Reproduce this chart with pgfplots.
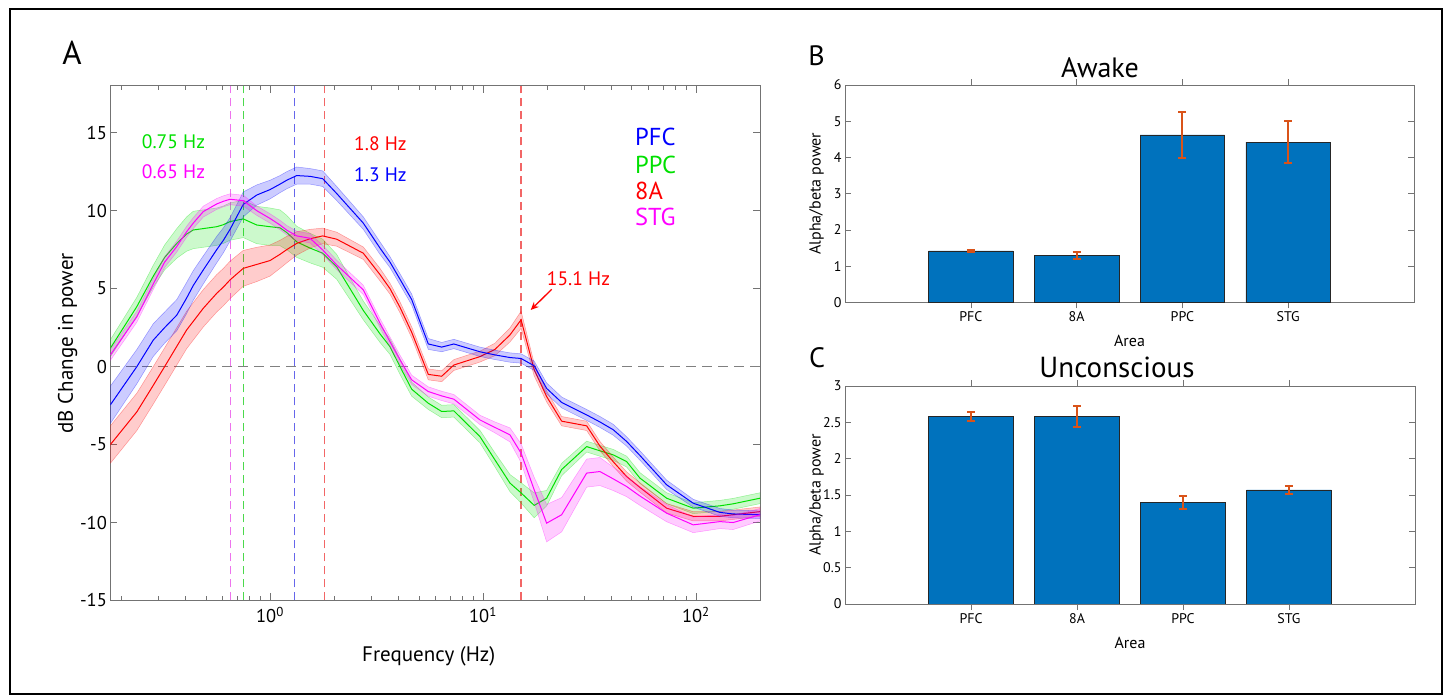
\documentclass[border=0pt]{standalone}
\usepackage{fontspec}
\setmainfont{PT Sans}
\usepackage{pgfplots}
\pgfplotsset{compat=1.18}
\usepackage{pgfplotstable}
\usetikzlibrary{arrows.meta}

\definecolor{cpfc}{rgb}{0,0,1}
\definecolor{cppc}{rgb}{0,0.88,0}
\definecolor{ceightA}{rgb}{1,0,0}
\definecolor{cstg}{rgb}{1,0,1}
\definecolor{vpfc}{rgb}{0.4,0.4,0.92}
\definecolor{vppc}{rgb}{0.3,0.85,0.3}
\definecolor{veightA}{rgb}{0.95,0.4,0.4}
\definecolor{vstg}{rgb}{0.93,0.45,0.93}
\definecolor{matblue}{rgb}{0,0.447,0.741}
\definecolor{matorange}{rgb}{0.85,0.325,0.098}
\definecolor{axgray}{gray}{0.45}

\pgfplotstableread{
f m e
0.178 -2.45 1.2
0.237 0.0 1.1
0.283 1.7 1.05
0.32 2.5 1.0
0.365 3.3 1.0
0.406 4.4 1.0
0.436 5.2 0.95
0.486 6.2 0.9
0.562 7.5 0.85
0.604 8.1 0.8
0.649 8.8 0.75
0.749 10.4 0.8
0.866 11.0 0.65
1.0 11.35 0.6
1.114 11.7 0.55
1.198 11.95 0.55
1.335 12.25 0.55
1.541 12.2 0.5
1.768 12.05 0.5
2.056 11.1 0.45
2.742 9.2 0.4
3.284 7.6 0.4
3.659 6.7 0.35
4.077 5.6 0.35
4.627 4.3 0.35
5.537 1.45 0.35
6.4 1.25 0.3
7.3 1.45 0.3
9.68 0.95 0.3
11.38 0.75 0.3
13.39 0.58 0.3
15.1 0.52 0.3
17.4 0.05 0.3
19.91 -1.4 0.35
23.42 -2.3 0.35
30.69 -3.1 0.35
35.42 -3.55 0.35
40.9 -4.05 0.35
47.27 -4.8 0.3
54.59 -5.7 0.3
72.86 -7.58 0.3
97.1 -8.76 0.25
129.6 -9.35 0.25
149.6 -9.45 0.25
200 -9.5 0.25
}\pfc

\pgfplotstableread{
f m e
0.178 -5.0 1.2
0.237 -2.9 1.2
0.283 -1.2 1.2
0.32 0.0 1.2
0.365 1.3 1.2
0.406 2.35 1.2
0.436 2.9 1.2
0.486 3.74 1.2
0.562 4.7 1.2
0.604 5.1 1.2
0.649 5.56 1.2
0.749 6.3 1.15
0.866 6.55 1.1
1.0 6.8 1.0
1.114 7.2 0.9
1.198 7.5 0.85
1.335 7.9 0.75
1.541 8.2 0.6
1.768 8.38 0.5
2.056 8.17 0.45
2.742 7.27 0.4
3.284 5.9 0.4
3.659 5.0 0.35
4.077 3.8 0.35
4.627 2.2 0.35
5.537 -0.5 0.35
6.4 -0.62 0.35
7.3 0.1 0.35
9.68 0.64 0.35
11.38 1.1 0.4
13.39 2.03 0.45
15.1 3.0 0.55
17.4 -0.2 0.4
19.91 -1.92 0.35
23.42 -3.5 0.3
30.69 -3.8 0.3
35.42 -5.1 0.3
40.9 -6.1 0.3
47.27 -7.05 0.3
54.59 -7.75 0.3
72.86 -9.08 0.3
97.1 -9.6 0.3
129.6 -9.6 0.3
149.6 -9.5 0.3
200 -9.3 0.3
}\eightA

\pgfplotstableread{
f m e
0.178 1.18 0.55
0.237 3.85 0.6
0.283 5.8 0.7
0.32 7.0 0.8
0.365 7.9 0.95
0.406 8.5 1.1
0.436 8.76 1.2
0.486 8.85 1.2
0.562 8.97 1.2
0.604 9.1 1.2
0.649 9.3 1.2
0.749 9.47 1.2
0.866 9.08 1.2
1.0 8.97 1.2
1.114 8.9 1.15
1.198 8.6 1.1
1.335 8.0 1.0
1.541 7.6 0.95
1.768 7.27 0.9
2.056 6.4 0.8
2.742 3.6 0.6
3.284 2.1 0.55
3.659 1.28 0.5
4.077 0.0 0.5
4.627 -1.45 0.45
5.537 -2.35 0.4
6.4 -2.88 0.4
7.3 -2.84 0.4
9.68 -4.49 0.4
11.38 -5.98 0.45
13.39 -7.47 0.55
15.1 -8.1 0.65
17.4 -8.9 0.8
19.91 -8.44 0.5
23.42 -6.6 0.4
30.69 -5.13 0.35
35.42 -5.4 0.35
40.9 -5.66 0.35
47.27 -6.09 0.35
54.59 -7.15 0.35
72.86 -8.44 0.35
97.1 -9.08 0.35
129.6 -8.93 0.35
149.6 -8.8 0.35
200 -8.44 0.35
}\ppc

\pgfplotstableread{
f m e
0.178 0.75 0.35
0.237 3.2 0.35
0.283 5.3 0.35
0.32 6.7 0.35
0.365 7.7 0.35
0.406 8.65 0.35
0.436 9.2 0.35
0.486 9.94 0.35
0.562 10.43 0.35
0.604 10.6 0.35
0.649 10.73 0.35
0.749 10.64 0.35
0.866 10.0 0.3
1.0 9.5 0.3
1.114 9.08 0.3
1.198 8.75 0.3
1.335 8.38 0.3
1.541 8.23 0.3
1.768 7.48 0.3
2.056 6.52 0.3
2.742 4.92 0.3
3.284 2.78 0.3
3.659 1.6 0.3
4.077 0.43 0.3
4.627 -0.85 0.3
5.537 -1.6 0.3
6.4 -1.88 0.3
7.3 -2.09 0.3
9.68 -3.42 0.3
11.38 -3.9 0.35
13.39 -4.38 0.45
15.1 -5.55 0.6
17.4 -7.9 0.8
19.91 -10.04 1.2
23.42 -9.5 1.1
30.69 -6.83 0.9
35.42 -6.73 0.9
40.9 -7.2 0.75
47.27 -7.69 0.65
54.59 -8.3 0.6
72.86 -9.4 0.55
97.1 -10.15 0.5
129.6 -9.94 0.45
149.6 -10.0 0.45
200 -9.5 0.4
}\stg

% polygon tables for the shaded bands: upper edge forward, lower edge backward
\newcommand{\makeband}[2]{%
  \pgfplotstablesort[sort key=f, sort cmp=float <]{#2}{#1}%
  \pgfplotstablecreatecol[create col/expr={\thisrow{m}+\thisrow{e}}]{yy}{#2}%
  \pgfplotstablesort[sort key=f, sort cmp=float >]{\tmprev}{#1}%
  \pgfplotstablecreatecol[create col/expr={\thisrow{m}-\thisrow{e}}]{yy}{\tmprev}%
  \pgfplotstablevertcat{#2}{\tmprev}%
}
\makeband{\pfc}{\pfcband}
\makeband{\eightA}{\eightAband}
\makeband{\ppc}{\ppcband}
\makeband{\stg}{\stgband}

\newcommand{\band}[3]{%
  \addplot[#1, fill=#1, fill opacity=0.2, draw opacity=0.35, line width=0.5bp, forget plot] table[x=f, y=yy] {#3} -- cycle;
  \addplot[#1, line width=1bp] table[x=f, y=m] {#2};
}

\begin{document}
\begin{tikzpicture}
\useasboundingbox (0,0) rectangle (1447bp,696bp);
\draw[black, line width=1.2bp] (10bp,2bp) rectangle (1442bp,687bp);

% ---------------- Panel A ----------------
\begin{axis}[
  at={(110.4bp,95.5bp)}, anchor=south west, scale only axis,
  width=649.6bp, height=514.6bp,
  xmode=log, xmin=0.178, xmax=200, ymin=-15, ymax=18,
  ytick={-15,-10,...,15},
  xtick={1,10,100},
  xticklabels={10\textsuperscript{0},10\textsuperscript{1},10\textsuperscript{2}},
  minor xtick={0.2,0.3,0.4,0.5,0.6,0.7,0.8,0.9,2,3,4,5,6,7,8,9,20,30,40,50,60,70,80,90,200},
  axis line style={axgray, line width=0.8bp},
  tick style={axgray, line width=0.7bp},
  major tick length=7bp, minor tick length=4bp, tick align=inside,
  /pgf/number format/assume math mode=true,
  tick label style={font=\fontsize{18.5bp}{20bp}\selectfont, black},
  xticklabel style={yshift=-3bp},
  label style={font=\fontsize{21bp}{24bp}\selectfont},
  xlabel={Frequency (Hz)}, ylabel={dB Change in power},
  xlabel style={at={(axis description cs:0.49,-0.109)}, anchor=center},
  ylabel style={at={(axis description cs:-0.066,0.5)}, anchor=center},
]
\addplot[vstg, line width=1.2bp, dash pattern=on 8bp off 5bp] coordinates {(0.65,-15) (0.65,18)};
\addplot[vppc, line width=1.2bp, dash pattern=on 8bp off 5bp] coordinates {(0.75,-15) (0.75,18)};
\addplot[vpfc, line width=1.2bp, dash pattern=on 8bp off 5bp] coordinates {(1.3,-15) (1.3,18)};
\addplot[veightA, line width=1.2bp, dash pattern=on 8bp off 5bp] coordinates {(1.8,-15) (1.8,18)};
\addplot[veightA, line width=1.2bp, dash pattern=on 8bp off 5bp] coordinates {(15.1,-15) (15.1,18)};
\addplot[gray, line width=1.2bp, dash pattern=on 10bp off 6bp] coordinates {(0.178,0) (200,0)};
\band{cppc}{\ppc}{\ppcband}
\band{ceightA}{\eightA}{\eightAband}
\band{cpfc}{\pfc}{\pfcband}
\band{cstg}{\stg}{\stgband}
\end{axis}

\node[font=\fontsize{33bp}{36bp}\selectfont] at (72bp,643bp) {A};
\begin{scope}[every node/.style={anchor=west, font=\fontsize{24.5bp}{26bp}\selectfont, inner sep=0pt}]
\node[text=cpfc] at (635bp,559.3bp) {PFC};
\node[text=cppc] at (635bp,531bp) {PPC};
\node[text=ceightA] at (635bp,505.3bp) {8A};
\node[text=cstg] at (635bp,479bp) {STG};
\end{scope}
\begin{scope}[every node/.style={anchor=west, font=\fontsize{19.5bp}{21bp}\selectfont, inner sep=0pt}]
\node[text=cppc] at (141.7bp,554.3bp) {0.75 Hz};
\node[text=cstg] at (141.7bp,524.3bp) {0.65 Hz};
\node[text=ceightA] at (354bp,552.7bp) {1.8 Hz};
\node[text=cpfc] at (354bp,521bp) {1.3 Hz};
\node[text=ceightA] at (546.7bp,417.7bp) {15.1 Hz};
\end{scope}
\draw[ceightA, line width=1.3bp, -{Stealth[length=8bp,width=7bp]}] (551.7bp,406.7bp) -- (530.7bp,386bp);

% ---------------- Panels B, C ----------------
\pgfplotsset{barpanel/.style={
  scale only axis, anchor=south west,
  xmin=-0.19, xmax=5.19, ymin=0,
  xtick={1,2,3,4}, xticklabels={PFC,8A,PPC,STG},
  axis line style={axgray, line width=0.8bp},
  tick style={axgray, line width=0.7bp},
  major tick length=6bp, tick align=inside,
  /pgf/number format/assume math mode=true,
  /pgf/number format/fixed,
  tick label style={font=\fontsize{14bp}{16bp}\selectfont, black},
  label style={font=\fontsize{16bp}{18bp}\selectfont},
  xlabel={Area}, ylabel={Alpha/beta power},
  xlabel style={at={(axis description cs:0.5,-0.178)}, anchor=center},
  ylabel style={at={(axis description cs:-0.05,0.5)}, anchor=center},
  ybar, bar width=0.8,
}}
\begin{axis}[barpanel, at={(845bp,393.7bp)}, width=569bp, height=217.3bp,
  ymax=6, ytick={0,1,...,6}]
\addplot[fill=matblue, draw=black!85, line width=0.6bp,
  error bars/.cd, y dir=both, y explicit,
  error bar style={matorange, line width=2bp},
  error mark options={rotate=90, mark size=4bp, line width=2bp, matorange}]
  coordinates {(1,1.42) +- (0,0.03) (2,1.30) +- (0,0.10) (3,4.62) +- (0,0.63) (4,4.42) +- (0,0.58)};
\node[anchor=south west, inner sep=1bp, font=\fontsize{14bp}{15bp}\selectfont] at (rel axis cs:0,1) {×10\textsuperscript{-6}};
\end{axis}
\node[font=\fontsize{28bp}{30bp}\selectfont] at (1100bp,628bp) {Awake};
\node[font=\fontsize{28bp}{30bp}\selectfont] at (816.5bp,640bp) {B};

\begin{axis}[barpanel, at={(845bp,92bp)}, width=570bp, height=218bp,
  ymax=3, ytick={0,0.5,...,3}]
\addplot[fill=matblue, draw=black!85, line width=0.6bp,
  error bars/.cd, y dir=both, y explicit,
  error bar style={matorange, line width=2bp},
  error mark options={rotate=90, mark size=4bp, line width=2bp, matorange}]
  coordinates {(1,2.58) +- (0,0.062) (2,2.58) +- (0,0.14) (3,1.40) +- (0,0.09) (4,1.57) +- (0,0.06)};
\node[anchor=south west, inner sep=1bp, font=\fontsize{14bp}{15bp}\selectfont] at (rel axis cs:0,1) {×10\textsuperscript{-6}};
\end{axis}
\node[font=\fontsize{29bp}{31bp}\selectfont] at (1117bp,329bp) {Unconscious};
\node[font=\fontsize{28bp}{30bp}\selectfont] at (817bp,338bp) {C};
\end{tikzpicture}
\end{document}
